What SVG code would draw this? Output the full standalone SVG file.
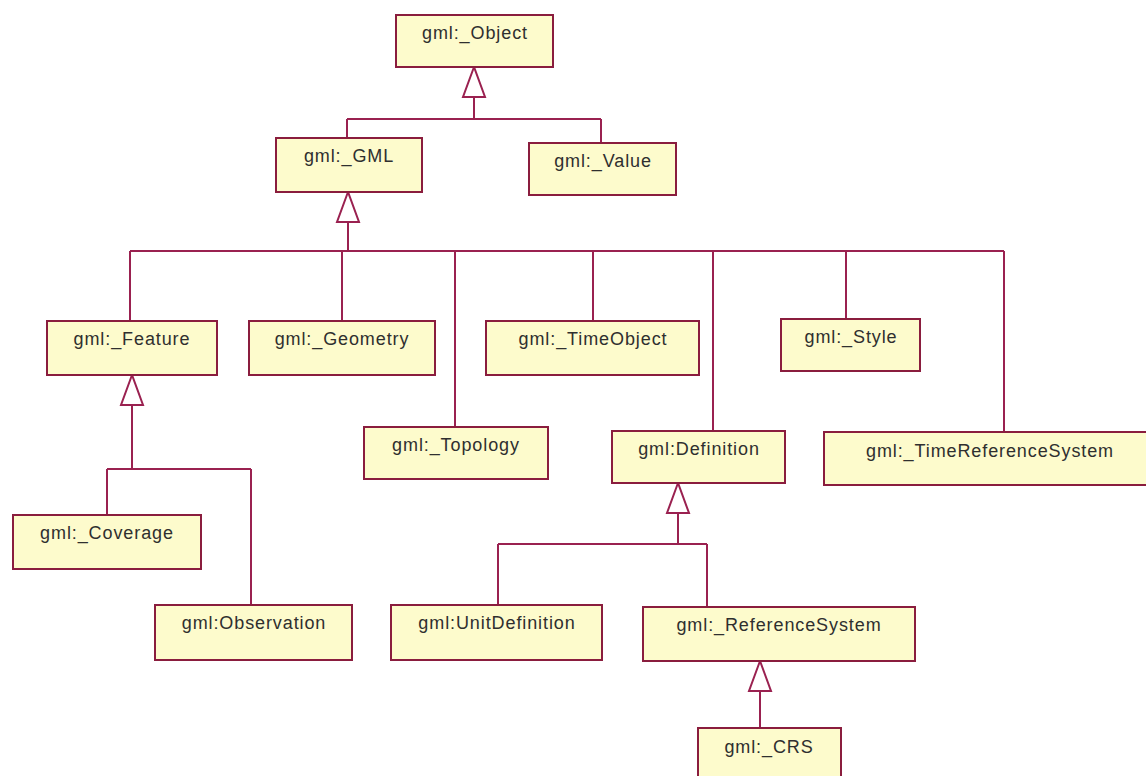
<svg xmlns="http://www.w3.org/2000/svg" xmlns:xlink="http://www.w3.org/1999/xlink" width="1146" height="776" viewBox="0 0 1146 776">
<style>
.box{fill:#fdfbcc;stroke:#8a1d3e;stroke-width:2}
.lbl{font-family:"Liberation Sans",Arial,sans-serif;font-size:18px;letter-spacing:0.9px;fill:#2f2f2f;text-anchor:middle}
.ln{fill:none;stroke:#9a2150;stroke-width:2}
.tri{fill:#ffffff;stroke:#9a2150;stroke-width:2;stroke-linejoin:miter}
</style>
<defs>
<polygon id="gen" class="tri" points="0,0 -11,30 11,30"/>
</defs>
<rect width="1146" height="776" fill="#ffffff"/>
<g id="connectors">
<path class="ln" d="M474,97 V119 M347,119 H601 M347,119 V138 M601,119 V143"/>
<use xlink:href="#gen" x="474" y="67"/>
<path class="ln" d="M348,222 V251 M130,251 H1004 M130,251 V321 M342,251 V321 M455,251 V427 M593,251 V321 M713,251 V431 M846,251 V319 M1004,251 V432"/>
<use xlink:href="#gen" x="348" y="192"/>
<path class="ln" d="M132,403 V469 M107,469 H251 M107,469 V515 M251,469 V605"/>
<use xlink:href="#gen" x="132" y="375"/>
<path class="ln" d="M678,513 V544 M498,544 H707 M498,544 V605 M707,544 V607"/>
<use xlink:href="#gen" x="678" y="483"/>
<path class="ln" d="M760,690 V728"/>
<use xlink:href="#gen" x="760" y="661"/>
</g>
<g id="n_object"><rect class="box" x="396" y="15" width="157" height="52"/><text class="lbl" x="475" y="39">gml:_Object</text></g>
<g id="n_gml"><rect class="box" x="276" y="138" width="146" height="54"/><text class="lbl" x="349" y="162">gml:_GML</text></g>
<g id="n_value"><rect class="box" x="529" y="143" width="147" height="52"/><text class="lbl" x="603" y="167">gml:_Value</text></g>
<g id="n_feature"><rect class="box" x="47" y="321" width="170" height="54"/><text class="lbl" x="132" y="345">gml:_Feature</text></g>
<g id="n_geometry"><rect class="box" x="249" y="321" width="186" height="54"/><text class="lbl" x="342" y="345">gml:_Geometry</text></g>
<g id="n_timeobject"><rect class="box" x="486" y="321" width="213" height="54"/><text class="lbl" x="593" y="345">gml:_TimeObject</text></g>
<g id="n_style"><rect class="box" x="781" y="319" width="139" height="52"/><text class="lbl" x="851" y="343">gml:_Style</text></g>
<g id="n_topology"><rect class="box" x="364" y="427" width="184" height="52"/><text class="lbl" x="456" y="451">gml:_Topology</text></g>
<g id="n_definition"><rect class="box" x="612" y="431" width="173" height="52"/><text class="lbl" x="699" y="455">gml:Definition</text></g>
<g id="n_trs"><rect class="box" x="824" y="432" width="332" height="53"/><text class="lbl" x="990" y="457">gml:_TimeReferenceSystem</text></g>
<g id="n_coverage"><rect class="box" x="13" y="515" width="188" height="54"/><text class="lbl" x="107" y="539">gml:_Coverage</text></g>
<g id="n_observation"><rect class="box" x="155" y="605" width="197" height="55"/><text class="lbl" x="254" y="629">gml:Observation</text></g>
<g id="n_unitdef"><rect class="box" x="391" y="605" width="211" height="55"/><text class="lbl" x="497" y="629">gml:UnitDefinition</text></g>
<g id="n_refsys"><rect class="box" x="643" y="607" width="272" height="54"/><text class="lbl" x="779" y="631">gml:_ReferenceSystem</text></g>
<g id="n_crs"><rect class="box" x="698" y="728" width="143" height="60"/><text class="lbl" x="769" y="753">gml:_CRS</text></g>
</svg>
